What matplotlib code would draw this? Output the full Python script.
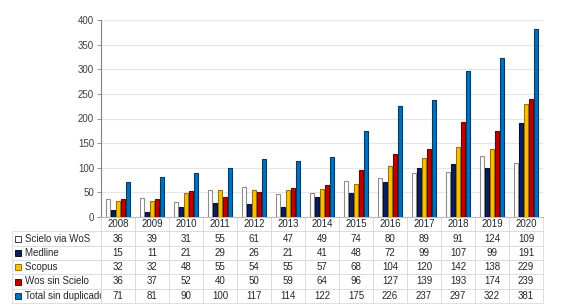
import matplotlib
matplotlib.use("Agg")
import matplotlib.pyplot as plt
from matplotlib.patches import Rectangle
import numpy as np

years = ["2008", "2009", "2010", "2011", "2012", "2013", "2014", "2015", "2016", "2017", "2018", "2019", "2020"]
series_names = ["Scielo via WoS", "Medline", "Scopus", "Wos sin Scielo", "Total sin duplicados"]
scielo = [36, 39, 31, 55, 61, 47, 49, 74, 80, 89, 91, 124, 109]
medline = [15, 11, 21, 29, 26, 21, 41, 48, 72, 99, 107, 99, 191]
scopus = [32, 32, 48, 55, 54, 55, 57, 68, 104, 120, 142, 138, 229]
wos_sin = [36, 37, 52, 40, 50, 59, 64, 96, 127, 139, 193, 174, 239]
total = [71, 81, 90, 100, 117, 114, 122, 175, 226, 237, 297, 322, 381]
values = [scielo, medline, scopus, wos_sin, total]
colors = ["#ffffff", "#0a1f5c", "#ffc000", "#c00000", "#0070c0"]
edges = ["#8c8c8c", "#050f30", "#9a7400", "#700000", "#003a66"]

plt.rcParams['font.family'] = ['Liberation Sans', 'DejaVu Sans']
W, H = 563, 305
fig = plt.figure(figsize=(W / 100, H / 100), dpi=100)
left, right, top, bottom = 101, 543, 20, 217
ax = fig.add_axes([left / W, 1 - bottom / H, (right - left) / W, (bottom - top) / H])

n = len(years)
x = np.arange(n)
bw = 0.125
step = 0.15
for i, (vals, c, ec) in enumerate(zip(values, colors, edges)):
    ax.bar(x + (i - 2) * step, vals, width=bw, color=c, edgecolor=ec, linewidth=0.8, zorder=3)

ax.set_xlim(-0.5, n - 0.5)
ax.set_ylim(0, 400)
ax.set_yticks(range(0, 401, 50))
ax.yaxis.grid(True, color="#e6e6e6", linewidth=0.8, zorder=0)
ax.set_xticks([])
for s in ["top", "right"]:
    ax.spines[s].set_visible(False)
ax.spines["left"].set_color("#808080")
ax.spines["bottom"].set_color("#bfbfbf")
ax.tick_params(axis="y", labelsize=7, colors="#404040", length=3, width=0.6, pad=2)
ax.tick_params(axis="y", color="#808080")

# data table
cell_text = [[""] + years]
for name, vals in zip(series_names, values):
    cell_text.append(["    " + name] + [str(v) for v in vals])
tab_left = 12
tab_bottom = 303
ax_w = right - left
ax_h = bottom - top
bbox = [(tab_left - left) / ax_w, -(tab_bottom - bottom) / ax_h,
        (right - tab_left) / ax_w, (tab_bottom - bottom) / ax_h]
tbl = ax.table(cellText=cell_text, bbox=bbox, cellLoc="center")
tbl.auto_set_font_size(False)
first_w = (left - tab_left)
col_w = (right - left) / n
for (r, c), cell in tbl.get_celld().items():
    cell.set_edgecolor("#d9d9d9")
    cell.set_linewidth(0.6)
    cell.set_width(first_w if c == 0 else col_w)
    cell.get_text().set_fontsize(7)
    cell.get_text().set_color("#262626")
    if c == 0:
        cell.get_text().set_horizontalalignment("left")
        cell._loc = "left"
        cell.PAD = 0.02
    if r == 0 and c == 0:
        cell.set_edgecolor("none")

# legend keys in first column
row_h = (tab_bottom - bottom) / 6
for i, (c, ec) in enumerate(zip(colors, edges)):
    yc = bottom + row_h * (i + 1.5)
    sz = 6
    rect = Rectangle(((tab_left + 3) / W, 1 - (yc + sz / 2) / H), sz / W, sz / H,
                     transform=fig.transFigure, facecolor=c, edgecolor=ec if i else "#404040",
                     linewidth=0.7, clip_on=False, zorder=5)
    fig.add_artist(rect)

fig.savefig("out.png", dpi=100)
